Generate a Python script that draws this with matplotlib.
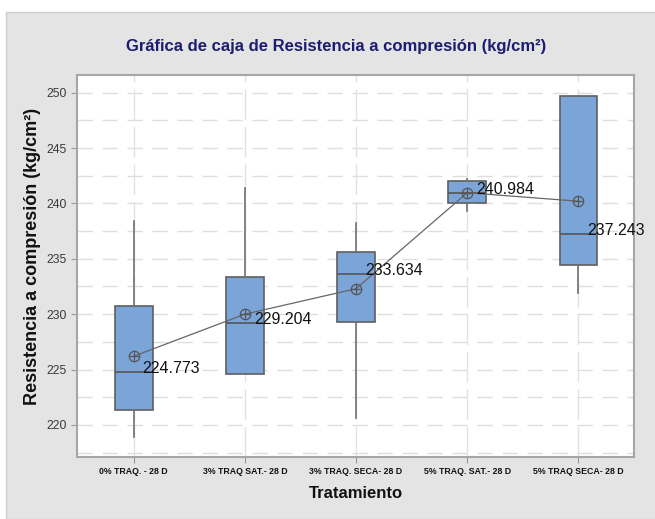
import matplotlib.pyplot as plt
from matplotlib.patches import Rectangle

plt.rcParams['font.family'] = ['Liberation Sans', 'DejaVu Sans']

# treatments and box statistics (kg/cm2)
groups = ['0% TRAQ. - 28 D', '3% TRAQ SAT.- 28 D', '3% TRAQ. SECA- 28 D',
          '5% TRAQ. SAT.- 28 D', '5% TRAQ SECA- 28 D']
q1 = [221.3, 224.6, 229.3, 240.0, 234.4]
med = [224.773, 229.204, 233.634, 240.984, 237.243]
q3 = [230.7, 233.4, 235.6, 242.0, 249.7]
wlo = [218.9, 224.6, 220.6, 239.3, 231.9]
whi = [238.4, 241.4, 238.2, 242.2, 249.7]
means = [226.2, 230.0, 232.3, 240.97, 240.2]

fig = plt.figure(figsize=(6.55, 5.19), dpi=100)
fig.patch.set_facecolor('white')
fig.patches.append(Rectangle((6 / 655, 0), 1, 1 - 12 / 519, transform=fig.transFigure,
                             facecolor='#e4e4e4', edgecolor='#cfcfcf', lw=1, zorder=-10))

ax = fig.add_axes([77 / 655, 1 - 457 / 519, 557 / 655, 382 / 519])
ax.set_facecolor('white')

pos = list(range(1, len(groups) + 1))
stats = []
for i in range(len(groups)):
    stats.append(dict(q1=q1[i], med=med[i], q3=q3[i], whislo=wlo[i], whishi=whi[i], fliers=[]))

ax.bxp(stats, positions=pos, widths=0.34, patch_artist=True, showcaps=False,
       boxprops=dict(facecolor='#7ba4d8', edgecolor='#5f5f5f', lw=1.2),
       medianprops=dict(color='#555555', lw=1.2),
       whiskerprops=dict(color='#707070', lw=1.2), zorder=3)

ax.plot(pos, means, color='#666666', lw=0.9, zorder=4)
ax.plot(pos, means, 'o', ms=7.5, mfc='none', mec='#555555', mew=0.9, zorder=5)
ax.plot(pos, means, '+', ms=7.5, mec='#555555', mew=0.9, zorder=5)

for p, m in zip(pos, med):
    ax.annotate(f'{m:.3f}', (p, m), xytext=(6.5, 2.5), textcoords='offset points',
                ha='left', va='center', fontsize=11.5, color='#111111', zorder=6)

ax.set_xlim(0.49, 5.5)
ax.set_ylim(217.1, 251.6)
ax.set_xticks(pos)
ax.set_xticklabels(groups, fontsize=6.3, color='#111111', fontweight='bold', fontstretch='condensed')
ax.set_yticks([220, 225, 230, 235, 240, 245, 250])
ax.tick_params(axis='y', labelsize=8.8, labelcolor='#3a3a3a', color='#999999', length=4)
ax.tick_params(axis='x', color='#999999', length=4, pad=3)

for y in [217.5 + 2.5 * k for k in range(14)]:
    ax.axhline(y, color='#dedede', lw=1, dashes=(11, 7), zorder=0)
for p in pos:
    ax.axvline(p, color='#e2e2e2', lw=1, dashes=(22, 5), zorder=0)

for s in ax.spines.values():
    s.set_color('#a6a6a6')
    s.set_linewidth(1.5)

fig.text(336 / 655, 1 - 47 / 519, 'Gráfica de caja de Resistencia a compresión (kg/cm²)',
         ha='center', va='center', fontsize=12, color='#1c1c70', fontweight='bold')
fig.text(33 / 655, 1 - 256 / 519, 'Resistencia a compresión (kg/cm²)', rotation=90,
         ha='center', va='center', fontsize=13, fontweight='bold', color='#111111')
fig.text(356 / 655, 1 - 493 / 519, 'Tratamiento', ha='center', va='center',
         fontsize=12, fontweight='bold', color='#111111')

fig.savefig('out.png', dpi=100)
